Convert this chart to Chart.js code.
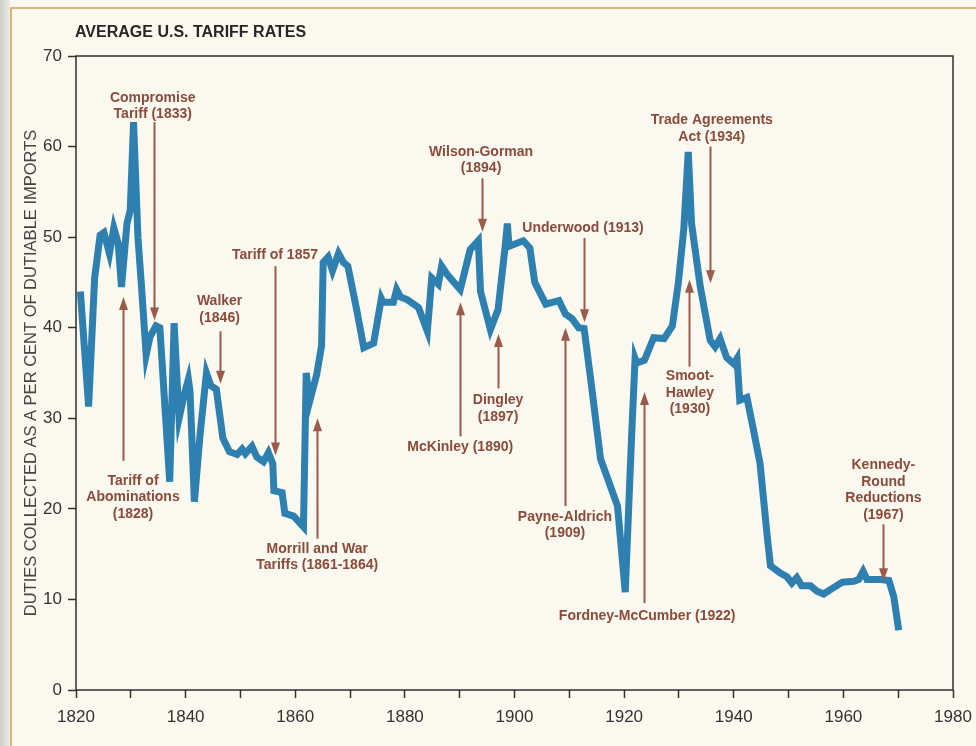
<!DOCTYPE html>
<html>
<head>
<meta charset="utf-8">
<title>Average U.S. Tariff Rates</title>
<script src="https://cdn.jsdelivr.net/npm/chart.js@4.4.1/dist/chart.umd.min.js"></script>
<style>
    html, body { margin: 0; padding: 0; background: #fbf8ef; }
    canvas { display: block; }
</style>
</head>
<body>
<canvas id="tariffChart" width="976" height="746"></canvas>
<script>
// years and rates, one entry per bend in the line
const years = [
    1820.8, 1822.3, 1823.4, 1824.4, 1825.1, 1826.1, 1826.9, 1827.7, 1828.3, 1829.3,
    1829.9, 1830.5, 1831.3, 1831.9, 1832.8, 1833.5, 1834.6, 1835.3, 1837.1, 1837.9,
    1838.8, 1839.7, 1840.5, 1840.8, 1841.6, 1842.6, 1843.8, 1844.6, 1845.6, 1846.8,
    1848.0, 1849.4, 1850.3, 1850.9, 1852.1, 1853.0, 1854.2, 1855.1, 1855.9, 1856.1,
    1857.6, 1858.1, 1859.7, 1861.5, 1862.0, 1862.6, 1863.9, 1864.8, 1865.1, 1866.0,
    1866.8, 1867.9, 1868.8, 1869.6, 1871.2, 1872.5, 1874.3, 1875.7, 1876.0, 1877.9,
    1878.5, 1879.2, 1880.4, 1881.6, 1882.5, 1884.1, 1884.9, 1886.1, 1886.7, 1887.7,
    1890.1, 1891.9, 1893.4, 1893.8, 1895.6, 1897.0, 1898.3, 1898.7, 1899.0, 1901.6,
    1902.8, 1903.7, 1905.7, 1908.1, 1909.3, 1910.5, 1911.7, 1912.7, 1913.9, 1915.7,
    1917.5, 1918.8, 1920.2, 1921.4, 1922.0, 1922.3, 1923.7, 1925.4, 1927.3, 1928.8,
    1929.9, 1930.9, 1931.7, 1932.3, 1933.9, 1935.7, 1936.6, 1937.5, 1938.7, 1940.0,
    1940.6, 1941.1, 1942.4, 1943.6, 1944.8, 1946.1, 1946.7, 1948.5, 1949.7, 1950.6,
    1951.5, 1952.4, 1954.0, 1955.2, 1956.4, 1958.2, 1959.8, 1961.9, 1962.8, 1963.6,
    1964.3, 1966.8, 1968.3, 1969.2, 1970.1,
];
const rates = [
    44, 31.3, 45.5, 50.2, 50.5, 48.2, 51, 49.3, 44.5, 51.5,
    53, 62.7, 50, 45, 37, 39, 40.2, 40, 23, 40.5,
    30, 32.5, 34.3, 33, 20.8, 28, 35, 33.6, 33.2, 27.8,
    26.3, 26, 26.6, 26.1, 26.9, 25.7, 25.2, 26.2, 25, 22,
    21.8, 19.5, 19.2, 18, 35, 31.8, 34.8, 38, 47.2, 47.8,
    46.3, 48.2, 47.2, 46.8, 42, 37.8, 38.3, 43.2, 42.8, 42.8,
    44.2, 43.4, 43.1, 42.6, 42.2, 39.6, 45.5, 44.8, 46.8, 45.9,
    44.2, 48.6, 49.6, 44, 39.8, 42, 49, 51.5, 49, 49.6,
    48.8, 45, 42.6, 43, 41.5, 41, 40, 39.9, 34.3, 25.5,
    22.5, 20.3, 10.8, 28.5, 36.6, 36.1, 36.4, 38.9, 38.8, 40.2,
    45, 51, 59.4, 51.5, 44.5, 38.6, 37.9, 38.8, 36.7, 36,
    36.6, 32, 32.3, 28.7, 25, 17, 13.7, 12.9, 12.5, 11.8,
    12.4, 11.5, 11.5, 10.9, 10.6, 11.3, 11.9, 12, 12.2, 13.1,
    12.2, 12.2, 12.1, 10.3, 6.6,
];

// axis ranges and tick labels
const yearMin = 1820;
const yearMax = 1980;
const yearLabels = [1820, 1840, 1860, 1880, 1900, 1920, 1940, 1960, 1980];
const rateMax = 70;

// tariff acts: label lines, where the label sits, and the arrow (year, from, to)
const actLabels = [
    ["Compromise", "Tariff (1833)"],
    ["Tariff of", "Abominations", "(1828)"],
    ["Walker", "(1846)"],
    ["Tariff of 1857"],
    ["Morrill and War", "Tariffs (1861-1864)"],
    ["McKinley (1890)"],
    ["Dingley", "(1897)"],
    ["Wilson-Gorman", "(1894)"],
    ["Underwood (1913)"],
    ["Payne-Aldrich", "(1909)"],
    ["Fordney-McCumber (1922)"],
    ["Trade Agreements", "Act (1934)"],
    ["Smoot-", "Hawley", "(1930)"],
    ["Kennedy-", "Round", "Reductions", "(1967)"],
];
const actLabelYear = [1834.0, 1830.4, 1846.2, 1856.3, 1864.0, 1890.1, 1897.0, 1893.9, 1912.5, 1909.2, 1924.2, 1936.0, 1932.0, 1967.3];
const actLabelRate = [65.4, 23.1, 42.9, 48.0, 15.6, 26.8, 32.0, 59.4, 51.0, 19.1, 8.2, 62.9, 34.6, 24.8];
const arrowYear = [1834.2, 1828.5, 1846.3, 1856.3, 1864.0, 1890.1, 1897.0, 1894.0, 1912.6, 1909.3, 1923.7, 1935.7, 1931.9, 1967.3];
const arrowFrom = [62.7, 25.3, 39.6, 46.8, 16.7, 28.0, 33.3, 56.5, 49.9, 20.3, 9.6, 60.0, 35.7, 18.3];
const arrowTo = [40.8, 43.4, 33.8, 25.9, 30.0, 42.8, 39.3, 50.6, 40.6, 40.0, 32.9, 44.9, 45.3, 12.0];

const brown = "#8c4a3a";
const arrowBrown = "#9a5b4b";
const fontFamily = "'Liberation Sans', Arial, sans-serif";

function drawArrow(ctx, x, yFrom, yTo) {
    const dir = yTo > yFrom ? 1 : -1;
    const headLen = 12;
    const headHalf = 4.5;
    ctx.beginPath();
    ctx.moveTo(x, yFrom);
    ctx.lineTo(x, yTo - dir * headLen);
    ctx.stroke();
    ctx.beginPath();
    ctx.moveTo(x, yTo);
    ctx.lineTo(x - headHalf, yTo - dir * (headLen + 1));
    ctx.lineTo(x + headHalf, yTo - dir * (headLen + 1));
    ctx.closePath();
    ctx.fill();
}

const pagePlugin = {
    id: "page",
    beforeDraw(chart) {
        const { ctx, width, height } = chart;
        ctx.save();
        ctx.fillStyle = "#fbf8ef";
        ctx.fillRect(0, 0, width, height);
        // scanned page edge on the left
        const grad = ctx.createLinearGradient(0, 0, 10, 0);
        grad.addColorStop(0, "#cfcfca");
        grad.addColorStop(1, "#ebebe6");
        ctx.fillStyle = grad;
        ctx.fillRect(0, 0, 10, height);
        ctx.strokeStyle = "#c9a24a";
        ctx.lineWidth = 1.5;
        ctx.beginPath();
        ctx.moveTo(11, height);
        ctx.lineTo(11, 8);
        ctx.lineTo(width, 8);
        ctx.stroke();
        ctx.restore();
    },
    afterDatasetsDraw(chart) {
        const { ctx, chartArea, scales } = chart;
        ctx.save();
        ctx.strokeStyle = "#2e2e2e";
        ctx.lineWidth = 1.5;
        ctx.strokeRect(chartArea.left, chartArea.top, chartArea.right - chartArea.left, chartArea.bottom - chartArea.top);

        ctx.strokeStyle = arrowBrown;
        ctx.fillStyle = arrowBrown;
        ctx.lineWidth = 2;
        arrowYear.forEach((yr, i) => {
            const x = Math.round(scales.x.getPixelForValue(yr)) + 0.5;
            drawArrow(ctx, x, scales.y.getPixelForValue(arrowFrom[i]), scales.y.getPixelForValue(arrowTo[i]));
        });

        ctx.fillStyle = brown;
        ctx.font = "bold 14px " + fontFamily;
        ctx.textAlign = "center";
        ctx.textBaseline = "middle";
        actLabels.forEach((lines, i) => {
            const x = scales.x.getPixelForValue(actLabelYear[i]);
            const y = scales.y.getPixelForValue(actLabelRate[i]);
            lines.forEach((line, j) => ctx.fillText(line, x, y + j * 16.5));
        });

        ctx.fillStyle = "#262626";
        ctx.font = "bold 16px " + fontFamily;
        ctx.textAlign = "left";
        ctx.fillText("AVERAGE U.S. TARIFF RATES", 75, 33);
        ctx.restore();
    },
};

const ctx = document.getElementById("tariffChart").getContext("2d");

new Chart(ctx, {
    type: "line",
    data: {
        datasets: [
            {
                label: "Average tariff rate",
                data: years.map((yr, i) => ({ x: yr, y: rates[i] })),
                borderColor: "#2d80b0",
                borderWidth: 7,
                borderJoinStyle: "miter",
                borderCapStyle: "butt",
                pointRadius: 0,
                tension: 0,
                fill: false,
            },
        ],
    },
    options: {
        responsive: false,
        animation: false,
        devicePixelRatio: 1,
        layout: { padding: { left: 14, top: 56, right: 23, bottom: 0 } },
        plugins: {
            legend: { display: false },
            title: { display: false },
            tooltip: { enabled: false },
        },
        scales: {
            x: {
                type: "linear",
                min: yearMin,
                max: yearMax,
                border: { display: false },
                grid: {
                    drawOnChartArea: false,
                    drawTicks: true,
                    tickLength: 8,
                    tickColor: "#333",
                    tickWidth: 1.5,
                },
                ticks: {
                    stepSize: 10,
                    autoSkip: false,
                    maxRotation: 0,
                    padding: 9,
                    color: "#333",
                    font: { family: fontFamily, size: 17 },
                    callback: (value) => (yearLabels.includes(value) ? String(value) : ""),
                },
                afterFit: (scale) => {
                    scale.height = 56;
                    scale.paddingLeft = 0;
                    scale.paddingRight = 0;
                },
            },
            y: {
                min: 0,
                max: rateMax,
                border: { display: false },
                grid: {
                    drawOnChartArea: false,
                    drawTicks: true,
                    tickLength: 8,
                    tickColor: "#333",
                    tickWidth: 1.5,
                },
                ticks: {
                    stepSize: 10,
                    padding: 6,
                    color: "#333",
                    font: { family: fontFamily, size: 17 },
                },
                title: {
                    display: true,
                    text: "DUTIES COLLECTED AS A PER CENT OF DUTIABLE IMPORTS",
                    color: "#444",
                    font: { family: fontFamily, size: 16.5 },
                    padding: { top: 8, bottom: 0 },
                },
                afterFit: (scale) => {
                    scale.width = 62;
                    scale.paddingTop = 0;
                    scale.paddingBottom = 0;
                },
            },
        },
    },
    plugins: [pagePlugin],
});
</script>
</body>
</html>
